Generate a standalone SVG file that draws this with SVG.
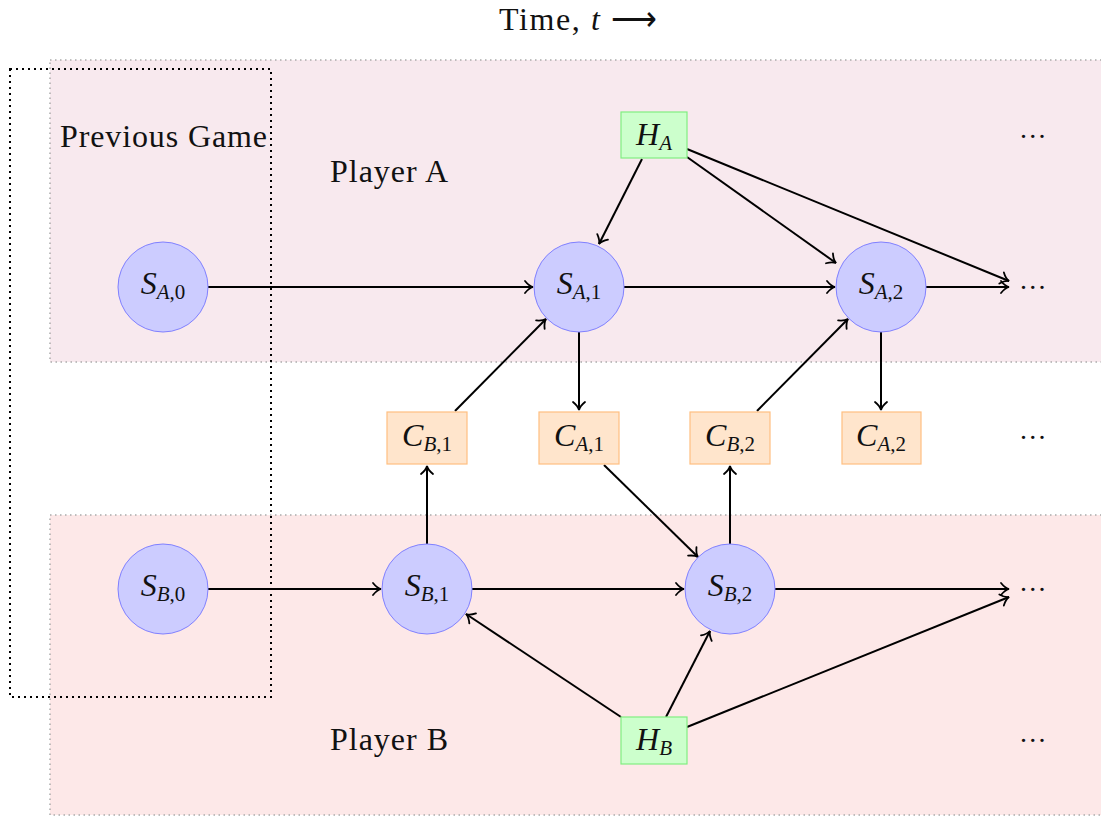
<svg xmlns="http://www.w3.org/2000/svg" width="1101" height="816" viewBox="0 0 1101 816">
  <style>
    text { font-family: "Liberation Serif", "Times New Roman", serif; fill: #111; }
    .lbl { font-size: 32px; }
    .m { font-size: 32px; font-style: italic; }
    .sub { font-size: 21px; }
    .up { font-style: normal; }
    .state { fill: #ccccff; stroke: #8080ff; stroke-width: 1; }
    .hid { fill: #ccffcc; stroke: #80ee80; stroke-width: 1.2; }
    .com { fill: #ffe5cc; stroke: #ffbf80; stroke-width: 1.2; }
    .edge { stroke: #000; stroke-width: 2; fill: none; marker-end: url(#arr); }
    .dots { font-size: 28px; letter-spacing: 2.2px; }
  </style>
  <defs>
    <marker id="arr" markerUnits="userSpaceOnUse" markerWidth="16" markerHeight="16" refX="1" refY="0" viewBox="-10 -8 14 16" orient="auto">
      <path d="M-7,-6 Q-3,-1 1,0 Q-3,1 -7,6" fill="none" stroke="#000" stroke-width="1.8" stroke-linecap="round"/>
    </marker>
  </defs>

  <rect width="1101" height="816" fill="#fff"/>

  <!-- player lanes -->
  <g id="laneA">
    <rect x="50" y="60" width="1060" height="302" fill="#f8e9ee" stroke="#aaa" stroke-width="1.5" stroke-dasharray="1.5 3.5"/>
    <text class="lbl" x="330" y="182" textLength="118" lengthAdjust="spacing">Player A</text>
  </g>
  <g id="laneB">
    <rect x="50" y="515" width="1060" height="300" fill="#fde8e8" stroke="#aaa" stroke-width="1.5" stroke-dasharray="1.5 3.5"/>
    <text class="lbl" x="330" y="750" textLength="118" lengthAdjust="spacing">Player B</text>
  </g>
  <g id="prevGame">
    <rect x="10" y="69" width="261" height="628" fill="none" stroke="#000" stroke-width="2" stroke-dasharray="2 4"/>
    <text class="lbl" x="60" y="147" textLength="207" lengthAdjust="spacing">Previous Game</text>
  </g>

  <text id="timeAxis" class="lbl" x="499" y="30" textLength="158" lengthAdjust="spacing">Time, <tspan font-style="italic">t</tspan> ⟶</text>

  <!-- connectors -->
  <g id="connectors">
    <line class="edge" x1="208" y1="287" x2="533" y2="287"/>
    <line class="edge" x1="624" y1="287" x2="835" y2="287"/>
    <line class="edge" x1="926" y1="287" x2="1009" y2="287"/>
    <line class="edge" x1="642" y1="159" x2="599" y2="244"/>
    <line class="edge" x1="687" y1="157" x2="836" y2="263"/>
    <line class="edge" x1="687" y1="149" x2="1009" y2="281"/>
    <line class="edge" x1="579" y1="332" x2="579" y2="410"/>
    <line class="edge" x1="455" y1="411" x2="546" y2="319"/>
    <line class="edge" x1="757" y1="411" x2="848" y2="319"/>
    <line class="edge" x1="881" y1="332" x2="881" y2="410"/>
    <line class="edge" x1="427" y1="544" x2="427" y2="466"/>
    <line class="edge" x1="730" y1="544" x2="730" y2="466"/>
    <line class="edge" x1="604" y1="465" x2="698" y2="557"/>
    <line class="edge" x1="208" y1="589" x2="381" y2="589"/>
    <line class="edge" x1="472" y1="589" x2="684" y2="589"/>
    <line class="edge" x1="775" y1="589" x2="1009" y2="589"/>
    <line class="edge" x1="621" y1="717" x2="466" y2="614"/>
    <line class="edge" x1="666" y1="717" x2="710" y2="631"/>
    <line class="edge" x1="687" y1="727" x2="1009" y2="597"/>
  </g>

  <!-- state nodes -->
  <g id="SA0"><circle class="state" cx="163" cy="287" r="45"/>
    <text class="m" x="163" y="294" text-anchor="middle">S<tspan class="sub" dy="5">A</tspan><tspan class="sub up">,0</tspan></text></g>
  <g id="SA1"><circle class="state" cx="579" cy="287" r="45"/>
    <text class="m" x="579" y="294" text-anchor="middle">S<tspan class="sub" dy="5">A</tspan><tspan class="sub up">,1</tspan></text></g>
  <g id="SA2"><circle class="state" cx="881" cy="287" r="45"/>
    <text class="m" x="881" y="294" text-anchor="middle">S<tspan class="sub" dy="5">A</tspan><tspan class="sub up">,2</tspan></text></g>
  <g id="SB0"><circle class="state" cx="163" cy="589" r="45"/>
    <text class="m" x="163" y="596" text-anchor="middle">S<tspan class="sub" dy="5">B</tspan><tspan class="sub up">,0</tspan></text></g>
  <g id="SB1"><circle class="state" cx="427" cy="589" r="45"/>
    <text class="m" x="427" y="596" text-anchor="middle">S<tspan class="sub" dy="5">B</tspan><tspan class="sub up">,1</tspan></text></g>
  <g id="SB2"><circle class="state" cx="730" cy="589" r="45"/>
    <text class="m" x="730" y="596" text-anchor="middle">S<tspan class="sub" dy="5">B</tspan><tspan class="sub up">,2</tspan></text></g>

  <!-- hidden nodes -->
  <g id="HA"><rect class="hid" x="621" y="112" width="66" height="46"/>
    <text class="m" x="654" y="145" text-anchor="middle">H<tspan class="sub" dy="5">A</tspan></text></g>
  <g id="HB"><rect class="hid" x="621" y="717" width="66" height="47"/>
    <text class="m" x="654" y="750" text-anchor="middle">H<tspan class="sub" dy="5">B</tspan></text></g>

  <!-- communication nodes -->
  <g id="CB1"><rect class="com" x="387" y="412" width="80" height="52"/>
    <text class="m" x="427" y="446" text-anchor="middle">C<tspan class="sub" dy="5">B</tspan><tspan class="sub up">,1</tspan></text></g>
  <g id="CA1"><rect class="com" x="539" y="412" width="80" height="52"/>
    <text class="m" x="579" y="446" text-anchor="middle">C<tspan class="sub" dy="5">A</tspan><tspan class="sub up">,1</tspan></text></g>
  <g id="CB2"><rect class="com" x="690" y="412" width="80" height="52"/>
    <text class="m" x="730" y="446" text-anchor="middle">C<tspan class="sub" dy="5">B</tspan><tspan class="sub up">,2</tspan></text></g>
  <g id="CA2"><rect class="com" x="842" y="412" width="79" height="52"/>
    <text class="m" x="881" y="446" text-anchor="middle">C<tspan class="sub" dy="5">A</tspan><tspan class="sub up">,2</tspan></text></g>

  <!-- continuation markers -->
  <g id="ellipses" class="dots">
    <text x="1020" y="138">...</text>
    <text x="1020" y="289">...</text>
    <text x="1020" y="439">...</text>
    <text x="1020" y="591">...</text>
    <text x="1020" y="742">...</text>
  </g>
</svg>
